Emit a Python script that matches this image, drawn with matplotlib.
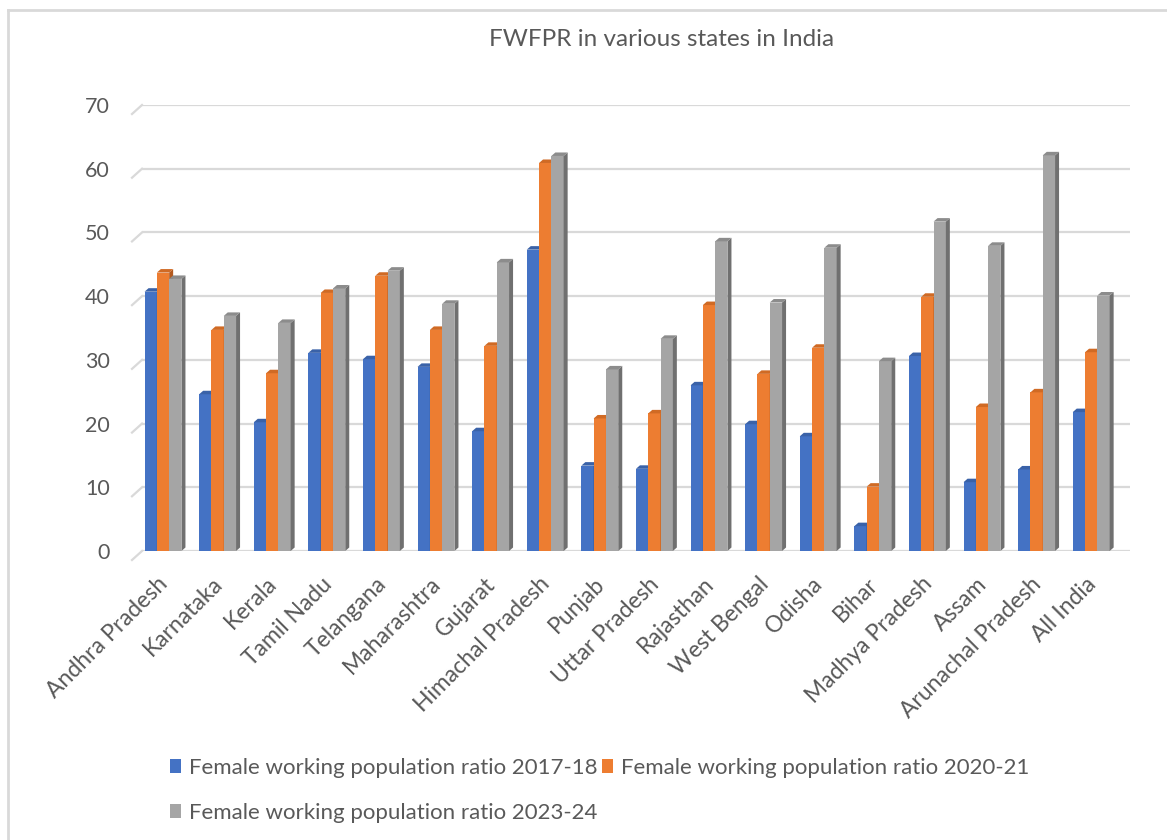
import numpy as np
import matplotlib.pyplot as plt
from matplotlib.patches import Polygon
from matplotlib.lines import Line2D
from matplotlib import transforms

states = ["Andhra Pradesh", "Karnataka", "Kerala", "Tamil Nadu", "Telangana",
          "Maharashtra", "Gujarat", "Himachal Pradesh", "Punjab", "Uttar Pradesh",
          "Rajasthan", "West Bengal", "Odisha", "Bihar", "Madhya Pradesh", "Assam",
          "Arunachal Pradesh", "All India"]
fwpr_2017 = [40.7, 24.6, 20.2, 31.1, 30.1, 28.9, 18.8, 47.3, 13.4, 12.9,
             26.0, 19.9, 18.0, 3.9, 30.6, 10.8, 12.8, 21.8]
fwpr_2020 = [43.7, 34.7, 27.9, 40.5, 43.2, 34.7, 32.2, 60.9, 20.8, 21.6,
             38.6, 27.8, 31.9, 10.1, 39.9, 22.6, 24.9, 31.2]
fwpr_2023 = [42.7, 36.9, 35.8, 41.2, 44.0, 38.8, 45.3, 62.0, 28.5, 33.3,
             48.6, 39.0, 47.6, 29.8, 51.7, 47.9, 62.1, 40.1]
series_names = ["Female working population ratio 2017-18",
                "Female working population ratio 2020-21",
                "Female working population ratio 2023-24"]
yticks = [0, 10, 20, 30, 40, 50, 60, 70]

front = ["#4472C4", "#ED7D31", "#A5A5A5"]
side = ["#2F528F", "#B35A1F", "#707070"]
top = ["#3A62A8", "#D06A24", "#8C8C8C"]
txt = "#595959"
grid = "#D9D9D9"

W, H = 1167, 840
fig = plt.figure(figsize=(W / 100, H / 100), dpi=100)
plt.rcParams['font.family'] = ['Lato', 'DejaVu Sans']

# plot area in pixels
left_px, right_px, top_px, bot_px = 142, 1130, 105, 551
ax = fig.add_axes([left_px / W, 1 - bot_px / H, (right_px - left_px) / W, (bot_px - top_px) / H])
x0_px, step_px = 163, 54.6
xmin = -(x0_px - left_px) / step_px
xmax = 17 + (right_px - (x0_px + 17 * step_px)) / step_px
ax.set_xlim(xmin, xmax)
ax.set_ylim(0, 70)
for s in ax.spines.values():
    s.set_visible(False)

ppx = (right_px - left_px) / (xmax - xmin)   # px per x unit
ppy = (bot_px - top_px) / 70.0               # px per y unit

# back wall gridlines with the slanted floor edge on the left
for v in yticks:
    ax.plot([xmin, xmax], [v, v], color=grid, lw=1.6, zorder=0, solid_capstyle='butt')
    ax.plot([xmin - 10 / ppx, xmin], [v - 9 / ppy, v], color=grid, lw=1.6,
            zorder=0, clip_on=False)

bw = 12.3 / ppx
dx, dy = 4 / ppx, 3.5 / ppy
x = np.arange(len(states))
offsets = [-bw, 0, bw]
for k, vals in enumerate([fwpr_2017, fwpr_2020, fwpr_2023]):
    ax.bar(x + offsets[k], vals, width=bw, color=front[k], zorder=3 + k * 0.1,
           label=series_names[k], clip_on=False)
    for xi, h in zip(x + offsets[k], vals):
        xl, xr = xi - bw / 2, xi + bw / 2
        ax.add_patch(Polygon([(xr, 0), (xr + dx, dy), (xr + dx, h + dy), (xr, h)],
                             closed=True, color=side[k], lw=0, zorder=3 + k * 0.1,
                             clip_on=False))
        ax.add_patch(Polygon([(xl, h), (xr, h), (xr + dx, h + dy), (xl + dx, h + dy)],
                             closed=True, color=top[k], lw=0, zorder=3 + k * 0.1,
                             clip_on=False))

ax.set_yticks(yticks)
ax.set_yticklabels([str(v) for v in yticks], fontsize=15.5, color=txt)
ax.tick_params(axis='y', length=0, pad=23)
ax.set_xticks(x)
ax.set_xticklabels(states, rotation=45, ha='right', rotation_mode='anchor',
                   fontsize=16.5, color=txt)
ax.tick_params(axis='x', length=0, pad=16)
shift = transforms.ScaledTranslation(-6 / 100, 0, fig.dpi_scale_trans)
for lbl in ax.get_xticklabels():
    lbl.set_transform(lbl.get_transform() + shift)

fig.text(662 / W, 1 - 40 / H, "FWFPR in various states in India", ha='center',
         va='center', fontsize=17.5, color=txt)

# legend, filled row by row
handles, labels = ax.get_legend_handles_labels()
order = [0, 2, 1]
fig.legend([handles[i] for i in order], [labels[i] for i in order], ncol=2,
           loc='upper left', bbox_to_anchor=(159 / W, 1 - 747 / H), frameon=False,
           fontsize=16, labelcolor=txt, handlelength=0.5, handleheight=0.6,
           handletextpad=0.35, columnspacing=0.2, labelspacing=1.1, borderpad=0)

# chart frame
fig.add_artist(Line2D([8 / W, 1], [1 - 10 / H, 1 - 10 / H], transform=fig.transFigure,
                      color=grid, lw=2))
fig.add_artist(Line2D([8 / W, 8 / W], [0, 1 - 10 / H], transform=fig.transFigure,
                      color=grid, lw=2))

fig.savefig("out.png", dpi=100, facecolor="white")
